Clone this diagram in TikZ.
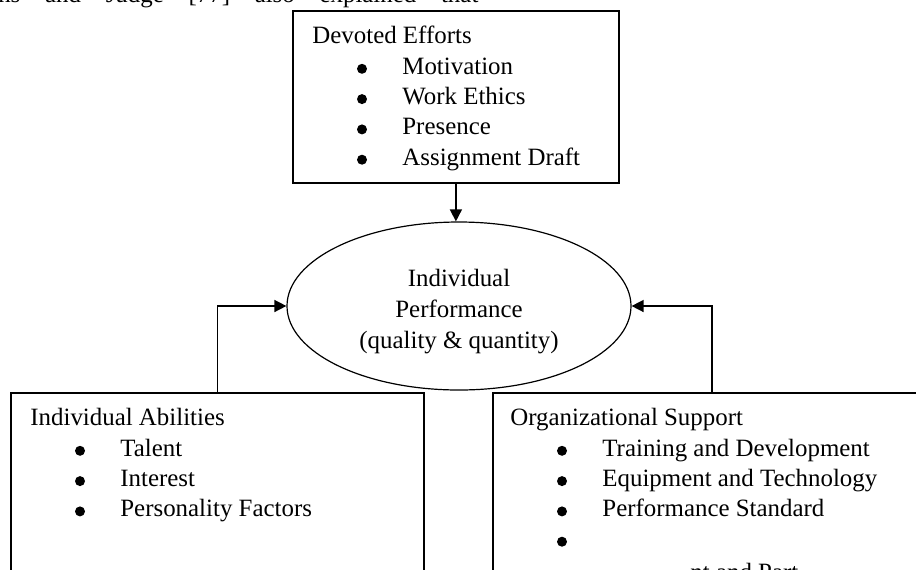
\documentclass[tikz,border=0pt]{standalone}
\usepackage{fontspec}
\setmainfont{Liberation Serif}
\usetikzlibrary{shapes.geometric,arrows.meta,positioning}

\begin{document}
\begin{tikzpicture}[x=0.5pt,y=-0.5pt,
    font=\fontsize{12.45}{15.5}\selectfont,
    box/.style={draw,line width=0.9pt,anchor=north west,inner sep=0pt},
    lbl/.style={anchor=base west,inner sep=0pt},
    conn/.style={line width=0.75pt,-{Triangle[length=6pt,width=6pt]}}]
    \clip (0,0) rectangle (916,569);
    \node[lbl] (cap) at (-63,2) {\hbox to 270.5pt{Robbins\hfill and\hfill Judge\hfill [77]\hfill also\hfill explained\hfill that}};
    \node[box,minimum width=163pt,minimum height=86pt] (de) at (292,10) {};
    \node[box,minimum width=206.5pt,minimum height=120pt] (ia) at (10,392) {};
    \node[box,minimum width=219pt,minimum height=120pt] (os) at (492,392) {};
    \node[ellipse,draw,line width=0.6pt,minimum width=172pt,minimum height=84pt,
      inner sep=0pt] (perf) at (459,306) {};
    \node[align=center,inner sep=0pt] (perf-t) at ([yshift=-3pt]perf.center)
      {Individual\\Performance\\(quality \& quantity)};
    \node[lbl] (de-t) at ([shift={(20,33)}]de.north west) {Devoted Efforts};
    \foreach \t [count=\i] in {Motivation,Work Ethics,Presence,Assignment Draft}{
      \fill ([shift={(70,{34+30.3*\i-5.5})}]de.north west) circle (2.5pt);
      \node[lbl] (de-\i) at ([shift={(110,{34+30.3*\i})}]de.north west) {\t};
    }
    \node[lbl] (ia-t) at ([shift={(20,33)}]ia.north west) {Individual Abilities};
    \foreach \t [count=\i] in {Talent,Interest,Personality Factors}{
      \fill ([shift={(70,{34+30.3*\i-5.5})}]ia.north west) circle (2.5pt);
      \node[lbl] (ia-\i) at ([shift={(110,{34+30.3*\i})}]ia.north west) {\t};
    }
    \node[lbl] (os-t) at ([shift={(18,33)}]os.north west) {Organizational Support};
    \foreach \t [count=\i] in {Training and Development,Equipment and Technology,Performance Standard,{}}{
      \fill ([shift={(70,{34+30.3*\i-5.5})}]os.north west) circle (2.5pt);
      \node[lbl] (os-\i) at ([shift={(110,{34+30.3*\i})}]os.north west) {\t};
    }
    \node[lbl] (os-x) at (690,580) {nt and Part};
    \draw[conn] (de.south) -- (de.south |- perf.north);
    \draw[conn] (ia.north) |- (perf.west);
    \draw[conn] (os.north) |- (perf.east);
\end{tikzpicture}
\end{document}
